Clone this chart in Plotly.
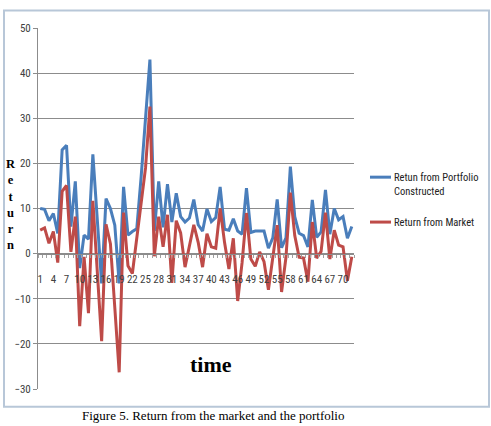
import plotly.graph_objects as go

periods = list(range(1, 73))
portfolio = [10, 9.8, 7.3, 8.9, 4.5, 23, 24, 6, 16, -3.2,
             4.1, 3.2, 22, 7, -6.6, 12.2, 10, 6.3, -6.6, 14.8,
             4.1, 4.9, 5.5, 17, 29, 43, 5, 16, 5.8, 15.4,
             7, 13.4, 8.2, 7, 7.9, 12, 6.4, 5, 9.9, 7.1,
             8, 14.8, 5.4, 5.2, 7.7, 5, 4.3, 14.5, 4.7, 5,
             5, 5, 1.2, 3.5, 12, 1.3, 3.5, 19.3, 8.2, 4.5,
             4, 1.5, 11.9, 3.6, 4.8, 14.1, 4.3, 10, 7.5, 8.2,
             3.4, 6]
market = [5.2, 5.7, 2.3, 4.9, -2, 13.8, 15.1, 0.4, 8.2, -16.1,
          -0.7, -13.2, 11.7, -4, -19.4, 6.5, 2.2, -12, -26.3, 9.1,
          -2.7, -4.4, 3, 11, 19, 32.6, -0.6, 8.2, 1.5, 8.6,
          -6.5, 7.3, 4.6, -3, 1.6, 6.4, 2.5, -3, 4.4, 1.5,
          1.2, 10, 2.5, -3.4, 3.4, -10.5, -2, 9, -1.2, -2.8,
          0.4, -1.8, -8, -0.5, 6.3, -8.5, -0.8, 13.5, 4, -0.8,
          -1, -6.2, 7, -1, 0.5, 9.1, -1.2, 5.2, 1.9, 1.5,
          -6, -0.7]
x_ticks = list(range(1, 71, 3))
y_ticks = [50, 40, 30, 20, 10, 0, -10, -20, -30]
series_names = ["Retun from Portfolio<br>Constructed", "Return from Market"]
colors = ["#4a7ebb", "#be4b48"]

W, H = 491, 426
L, R, T, B = 38, 137, 27.5, 36.7
pw, ph = W - L - R, H - T - B


def px(xp):
    return (xp - L) / pw


def py(yp):
    return (H - B - yp) / ph


fig = go.Figure()
for vals, c in zip([portfolio, market], colors):
    fig.add_trace(go.Scatter(x=periods, y=vals, mode="lines",
                             line=dict(color=c, width=3), showlegend=False))

axis_font = dict(family="Liberation Sans Narrow, Roboto Condensed, Liberation Sans, sans-serif",
                 size=11, color="#404040")

fig.update_layout(
    width=W, height=H,
    margin=dict(l=L, r=R, t=T, b=B, pad=0),
    paper_bgcolor="white", plot_bgcolor="white",
    xaxis=dict(range=[0.5, 72.5], tickmode="array", tickvals=x_ticks,
               ticktext=[str(v) for v in x_ticks],
               anchor="free", position=0.375,
               showline=True, linecolor="#8c8c8c", linewidth=1,
               ticks="outside", ticklen=15, tickcolor="rgba(0,0,0,0)",
               minor=dict(tickmode="linear", tick0=0.5, dtick=1,
                          ticks="outside", ticklen=3, tickcolor="#a0a0a0"),
               showgrid=False, zeroline=False, tickfont=axis_font),
    yaxis=dict(range=[-30, 50], tickmode="array", tickvals=y_ticks,
               showgrid=True, gridcolor="#8c8c8c", gridwidth=1,
               showline=True, linecolor="#8c8c8c", linewidth=1,
               ticks="outside", ticklen=4, tickcolor="#8c8c8c",
               zeroline=False, tickfont=axis_font),
)

# chart frame
fig.add_shape(type="rect", xref="paper", yref="paper",
              x0=px(4), x1=px(489), y0=py(407), y1=py(10),
              line=dict(color="#b8c7d8", width=2), fillcolor="rgba(0,0,0,0)")

# legend (manual)
leg_rows = [177, 222]
for name, c, yy in zip(series_names, colors, leg_rows):
    fig.add_shape(type="line", xref="paper", yref="paper",
                  x0=px(370), x1=px(391), y0=py(yy), y1=py(yy),
                  line=dict(color=c, width=3))
    fig.add_annotation(xref="paper", yref="paper", x=px(392), y=py(yy - 8),
                       text=name, showarrow=False, xanchor="left", yanchor="top",
                       align="left",
                       font=dict(family="Liberation Sans Narrow, Roboto Condensed, Liberation Sans, sans-serif",
                                 size=10.5, color="#222222"))

# vertical "Return" label
fig.add_annotation(xref="paper", yref="paper", x=px(11), y=py(204),
                   text="<b>R<br>e<br>t<br>u<br>r<br>n</b>", showarrow=False,
                   xanchor="center", yanchor="middle",
                   font=dict(family="Liberation Serif, serif", size=12.5, color="black"))

# "time" label
fig.add_annotation(xref="paper", yref="paper", x=px(211), y=py(365),
                   text="<b>time</b>", showarrow=False,
                   xanchor="center", yanchor="middle",
                   font=dict(family="Liberation Serif, serif", size=22, color="black"))

# caption
fig.add_annotation(xref="paper", yref="paper", x=px(80), y=py(425),
                   text="Figure 5. Return from the market and the portfolio",
                   showarrow=False, xanchor="left", yanchor="bottom",
                   font=dict(family="Liberation Serif, serif", size=13, color="black"))

fig.write_html("out.html")
